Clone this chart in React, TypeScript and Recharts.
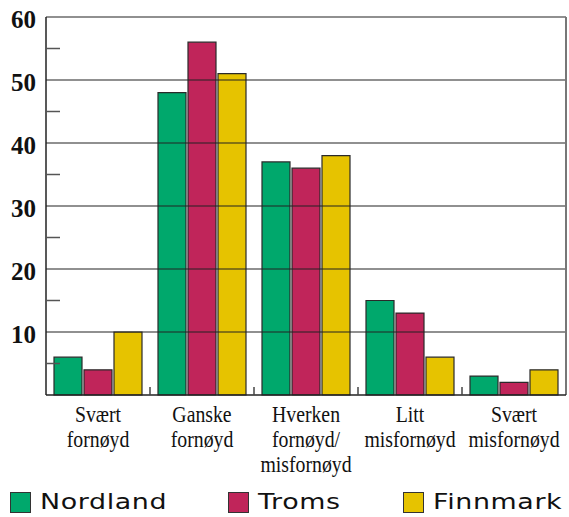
import React from "react";
import { BarChart, Bar, XAxis, YAxis, Legend, ReferenceLine } from "recharts";

const categories = [
  "Svært\nfornøyd",
  "Ganske\nfornøyd",
  "Hverken\nfornøyd/\nmisfornøyd",
  "Litt\nmisfornøyd",
  "Svært\nmisfornøyd",
];
const nordland = [6, 48, 37, 15, 3];
const troms = [4, 56, 36, 13, 2];
const finnmark = [10, 51, 38, 6, 4];
const seriesNames = ["Nordland", "Troms", "Finnmark"];
const colors = ["#00a86c", "#c0255a", "#e6c300"];
const yTicks = [5, 10, 15, 20, 25, 30, 35, 40, 45, 50, 55, 60];
const gridValues = [10, 20, 30, 40, 50, 60];

const data = categories.map((c, i) => ({
  name: c,
  Nordland: nordland[i],
  Troms: troms[i],
  Finnmark: finnmark[i],
}));

const YTick = (props: any) => {
  const { x, y, payload } = props;
  const v = payload.value;
  if (v % 10 !== 0) {
    return <line x1={x} x2={x + 14} y1={y} y2={y} stroke="#555" strokeWidth={1.5} />;
  }
  return (
    <text
      x={x - 10}
      y={y + 2}
      textAnchor="end"
      dominantBaseline="central"
      fontFamily="'Liberation Serif', serif"
      fontWeight="bold"
      fontSize={25}
      fill="#111"
    >
      {v}
    </text>
  );
};

const XTick = (props: any) => {
  const { x, y, payload, index } = props;
  const lines = String(payload.value).split("\n");
  const off = payload.offset || 0;
  return (
    <g>
      {index > 0 && (
        <line x1={x - off} x2={x - off} y1={y} y2={y - 8} stroke="#444" strokeWidth={1.5} />
      )}
      <g transform={`translate(${x},${y + 27}) scale(0.86,1)`}>
        <text
          x={0}
          y={0}
          textAnchor="middle"
          fontFamily="'Liberation Serif', serif"
          fontSize={23}
          fill="#111"
        >
          {lines.map((l, i) => (
            <tspan key={i} x={0} dy={i === 0 ? 0 : 25}>
              {l}
            </tspan>
          ))}
        </text>
      </g>
    </g>
  );
};

const itemWidths = [218, 175, 160];

const LegendContent = () => (
  <div style={{ display: "flex", paddingLeft: 10, alignItems: "center", height: 30 }}>
    {seriesNames.map((n, i) => (
      <div key={n} style={{ display: "flex", alignItems: "center", width: itemWidths[i] }}>
        <div
          style={{
            width: 19,
            height: 19,
            background: colors[i],
            border: "1.5px solid #333",
            marginRight: 9,
            flex: "none",
          }}
        />
        <span
          style={{
            display: "inline-block",
            fontFamily: "'DejaVu Sans', sans-serif",
            fontSize: 21.5,
            letterSpacing: 0.5,
            color: "#111",
            lineHeight: "30px",
            transform: "scaleX(1.25)",
            transformOrigin: "0 50%",
            whiteSpace: "nowrap",
          }}
        >
          {n}
        </span>
      </div>
    ))}
  </div>
);

export default function App() {
  return (
    <div style={{ position: "absolute", left: 0, top: 0, background: "#fff" }}>
      <BarChart
        width={569}
        height={517}
        data={data}
        margin={{ top: 17, right: 2, left: 0, bottom: 0 }}
        barCategoryGap={8}
        barGap={2}
      >
        <YAxis
          yAxisId="l"
          orientation="left"
          width={46}
          domain={[0, 60]}
          ticks={yTicks}
          interval={0}
          tickSize={0}
          tickMargin={0}
          tickLine={false}
          tick={<YTick />}
          axisLine={{ stroke: "#222", strokeWidth: 1.5 }}
        />
        <YAxis
          yAxisId="r"
          orientation="right"
          width={1}
          domain={[0, 60]}
          tick={false}
          tickLine={false}
          axisLine={{ stroke: "#777", strokeWidth: 2 }}
        />
        <XAxis
          dataKey="name"
          height={92}
          interval={0}
          tickSize={0}
          tickMargin={0}
          tickLine={false}
          tick={<XTick />}
          axisLine={{ stroke: "#222", strokeWidth: 1.5 }}
        />
        {gridValues.map((v) => (
          <ReferenceLine key={v} yAxisId="l" y={v} stroke="#222" strokeWidth={1.2} />
        ))}
        <Legend verticalAlign="bottom" height={30} content={<LegendContent />} />
        {seriesNames.map((n, i) => (
          <Bar
            key={n}
            yAxisId="l"
            dataKey={n}
            fill={colors[i]}
            stroke="#2a2a2a"
            strokeWidth={1.2}
            isAnimationActive={false}
          />
        ))}
      </BarChart>
    </div>
  );
}
